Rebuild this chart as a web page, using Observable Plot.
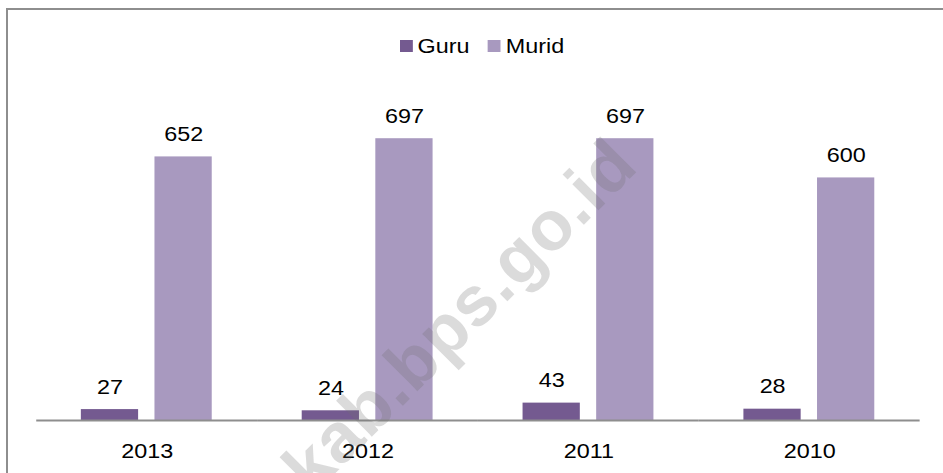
<!DOCTYPE html>
<html>
<head>
<meta charset="utf-8">
<script src="https://cdn.jsdelivr.net/npm/d3@7"></script>
<script src="https://cdn.jsdelivr.net/npm/@observablehq/plot@0.6"></script>
<style>
  html, body { margin: 0; padding: 0; background: #fff; overflow: hidden; }
  #wrap { position: relative; width: 943px; height: 473px; overflow: hidden; font-family: "Liberation Sans", Arial, sans-serif; }
  #frame { position: absolute; left: 6px; top: 8px; width: 1000px; height: 1000px; border: 2px solid #8e8e8e; box-sizing: border-box; pointer-events: none; }
  #legend { position: absolute; left: 400px; top: 36px; height: 20px; display: flex; align-items: center; font-size: 20px; line-height: 20px; color: #000; transform: scaleX(1.1685); transform-origin: 0 50%; }
  .item { display: flex; align-items: center; }
  .sw { width: 11px; height: 12px; margin-right: 4px; }
  #chart { position: absolute; left: 0; top: 0; }
  #wm { position: absolute; left: 648px; top: 176px; width: 0; height: 0; pointer-events: none; }
  #wm span { position: absolute; right: 0; bottom: 0; transform-origin: 100% 100%; transform: rotate(-45deg); white-space: nowrap;
    font: bold 70px "Liberation Sans", Arial, sans-serif; line-height: 1; color: rgba(110,110,110,0.25); letter-spacing: 1px; }
</style>
</head>
<body>
<div id="wrap">
  <div id="chart"></div>
  <div id="legend"></div>
  <div id="wm"><span>ekab.bps.go.id</span></div>
  <div id="frame"></div>
</div>
<script>
const years = ["2013", "2012", "2011", "2010"];
const guru = [27, 24, 43, 28];
const murid = [652, 697, 697, 600];
const seriesNames = ["Guru", "Murid"];
const seriesColors = ["#745a90", "#a899bf"];

const data = years.flatMap((y, i) => [
  {year: y, series: "Guru", value: guru[i]},
  {year: y, series: "Murid", value: murid[i]}
]);

// The reference is horizontally stretched; draw at a narrower width and stretch the SVG.
const stretch = 943 / 807;

const chart = Plot.plot({
  width: 807,
  height: 473,
  marginTop: 137,
  marginBottom: 53,
  marginLeft: 36 / stretch,
  marginRight: 22 / stretch,
  style: {fontFamily: "'Liberation Sans', Arial, sans-serif", fontSize: "20px", background: "transparent", color: "#000"},
  fx: {domain: years, padding: 0, label: null, tickSize: 0, tickPadding: 23, axis: "bottom"},
  x: {domain: seriesNames, axis: null, paddingInner: 0.216, paddingOuter: 0.6},
  y: {domain: [0, 700], axis: null},
  color: {domain: seriesNames, range: seriesColors},
  marks: [
    Plot.barY(data, {fx: "year", x: "series", y: "value", fill: "series"}),
    Plot.ruleY([0], {stroke: "#8e8e8e", strokeWidth: 2}),
    Plot.text(data, {fx: "year", x: "series", y: "value", text: d => String(d.value), lineAnchor: "bottom", dy: -16, fontSize: 20, fill: "#000"})
  ]
});
chart.setAttribute("viewBox", "0 0 807 473");
chart.setAttribute("width", 943);
chart.setAttribute("height", 473);
chart.setAttribute("preserveAspectRatio", "none");
chart.style.width = "943px";
chart.style.height = "473px";
chart.style.maxWidth = "none";
document.getElementById("chart").appendChild(chart);

const legend = document.getElementById("legend");
seriesNames.forEach((name, i) => {
  const item = document.createElement("div");
  item.className = "item";
  if (i > 0) item.style.marginLeft = "16px";
  const sw = document.createElement("div");
  sw.className = "sw";
  sw.style.background = seriesColors[i];
  const label = document.createElement("span");
  label.textContent = name;
  item.appendChild(sw);
  item.appendChild(label);
  legend.appendChild(item);
});
</script>
</body>
</html>
